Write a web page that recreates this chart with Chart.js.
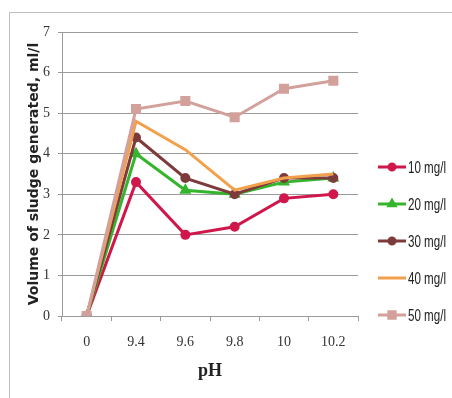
<!DOCTYPE html>
<html lang="en">
<head>
    <meta charset="UTF-8">
    <title>Volume of sludge vs pH</title>
    <style>
        body { margin: 0; background: #fff; }
        #wrap { position: relative; width: 452px; height: 398px; }
    </style>
    <script src="https://cdn.jsdelivr.net/npm/chart.js"></script>
</head>
<body>
    <div id="wrap"><canvas id="grafico" width="452" height="398"></canvas></div>

    <script>
        // data
        const phLabels = ['0', '9.4', '9.6', '9.8', '10', '10.2'];
        const seriesNames = ['10 mg/l', '20 mg/l', '30 mg/l', '40 mg/l', '50 mg/l'];
        const dose10 = [0, 3.3, 2.0, 2.2, 2.9, 3.0];
        const dose20 = [0, 4.0, 3.1, 3.0, 3.3, 3.4];
        const dose30 = [0, 4.4, 3.4, 3.0, 3.4, 3.4];
        const dose40 = [0, 4.8, 4.1, 3.1, 3.4, 3.5];
        const dose50 = [0, 5.1, 5.3, 4.9, 5.6, 5.8];
        const yTicks = [0, 1, 2, 3, 4, 5, 6, 7];

        const colors = ['#d0174b', '#34b52c', '#7d3b3b', '#f3a04c', '#d3a19b'];
        const markers = ['circle', 'triangle', 'circle', false, 'rect'];
        const radii = [3.5, 4, 3.5, 0, 5];
        const values = [dose10, dose20, dose30, dose40, dose50];

        const tickFont = { family: 'Liberation Serif', size: 14 };

        // frame around the whole picture
        const framePlugin = {
            id: 'frame',
            beforeDraw(chart) {
                const ctx = chart.ctx;
                ctx.save();
                ctx.strokeStyle = '#bdbdbd';
                ctx.lineWidth = 1;
                ctx.beginPath();
                ctx.moveTo(9.5, 398);
                ctx.lineTo(9.5, 12.5);
                ctx.lineTo(452, 12.5);
                ctx.stroke();
                ctx.restore();
            }
        };

        // legend on the right: line sample with marker, condensed label
        const legendPlugin = {
            id: 'sideLegend',
            afterDraw(chart) {
                const ctx = chart.ctx;
                ctx.save();
                chart.data.datasets.forEach((ds, i) => {
                    const y = 167 + i * 37;
                    ctx.strokeStyle = ds.borderColor;
                    ctx.lineWidth = 3;
                    ctx.beginPath();
                    ctx.moveTo(378, y);
                    ctx.lineTo(406, y);
                    ctx.stroke();
                    if (ds.pointStyle) {
                        ctx.fillStyle = ds.borderColor;
                        ctx.strokeStyle = ds.borderColor;
                        Chart.helpers.drawPoint(ctx, {
                            pointStyle: ds.pointStyle,
                            radius: ds.pointRadius - 0.5,
                            rotation: 0,
                            borderWidth: 1
                        }, 392, y);
                    }
                    ctx.fillStyle = '#222';
                    ctx.font = '17px "Liberation Sans", sans-serif';
                    ctx.textBaseline = 'middle';
                    const w = ctx.measureText(ds.label).width;
                    ctx.save();
                    ctx.translate(408, y + 1);
                    ctx.scale(38 / w, 1);
                    ctx.fillText(ds.label, 0, 0);
                    ctx.restore();
                });
                ctx.restore();
            }
        };

        new Chart(document.getElementById('grafico'), {
            type: 'line',
            data: {
                labels: phLabels,
                datasets: seriesNames.map((name, i) => ({
                    label: name,
                    data: values[i],
                    borderColor: colors[i],
                    backgroundColor: colors[i],
                    pointBackgroundColor: colors[i],
                    pointBorderColor: colors[i],
                    pointStyle: markers[i],
                    pointRadius: radii[i],
                    borderWidth: 3,
                    tension: 0,
                    order: 5 - i
                }))
            },
            options: {
                responsive: false,
                animation: false,
                layout: { padding: { left: 0, right: 94, top: 32, bottom: 0 } },
                plugins: {
                    legend: { display: false },
                    tooltip: { enabled: false }
                },
                scales: {
                    x: {
                        offset: true,
                        afterFit(scale) { scale.height = 82; },
                        grid: {
                            drawOnChartArea: false,
                            drawTicks: true,
                            tickLength: 5,
                            color: '#9a9a9a',
                            offset: true
                        },
                        border: { color: '#9a9a9a', width: 1 },
                        ticks: { font: tickFont, color: '#333', padding: 13 },
                        title: {
                            display: true,
                            text: 'pH',
                            font: { family: 'Liberation Serif', size: 18, weight: 'bold' },
                            color: '#222',
                            padding: { top: 0, bottom: 16 }
                        }
                    },
                    y: {
                        min: 0,
                        max: 7,
                        afterFit(scale) { scale.width = 62; },
                        afterBuildTicks(scale) { scale.ticks = yTicks.map(v => ({ value: v })); },
                        grid: { color: '#9a9a9a', tickLength: 4, lineWidth: 1 },
                        border: { color: '#9a9a9a', width: 1 },
                        ticks: { font: tickFont, color: '#333', padding: 8 },
                        title: {
                            display: true,
                            text: 'Volume of sludge generated, ml/l',
                            font: { family: 'DejaVu Sans', size: 14, weight: 'bold' },
                            color: '#222',
                            padding: { top: 26, bottom: 0 }
                        }
                    }
                }
            },
            plugins: [framePlugin, legendPlugin]
        });
    </script>
</body>
</html>
